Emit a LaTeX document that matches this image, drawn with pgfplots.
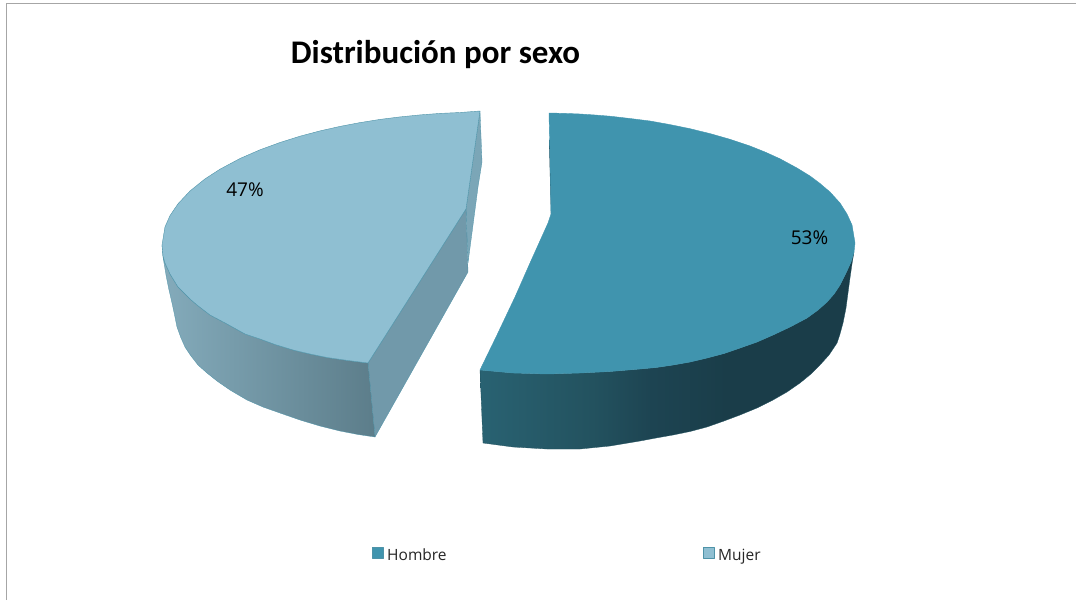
\documentclass[border=0pt]{standalone}
\usepackage{fontspec}
\usepackage{pgfplots}
\pgfplotsset{compat=1.18}
\setmainfont{Open Sans}
\newfontfamily\titlefont{Carlito}
\definecolor{hTop}{HTML}{4094AE}
\definecolor{mTop}{HTML}{8FBFD2}
\definecolor{edge}{HTML}{4E93A8}
\definecolor{mFace}{HTML}{7199AA}
\definecolor{mFaceB}{HTML}{7BA6B7}
\definecolor{frameC}{HTML}{A6A6A6}
\definecolor{HS1}{HTML}{296272}
\definecolor{HS2}{HTML}{23525F}
\definecolor{HS3}{HTML}{1D4452}
\definecolor{HS4}{HTML}{1A3D49}
\definecolor{MS1}{HTML}{84ABBB}
\definecolor{MS2}{HTML}{5C7D8A}
\pgfdeclarehorizontalshading{hSide}{100bp}{color(0bp)=(HS1); color(25bp)=(HS1); color(40bp)=(HS2); color(48bp)=(HS3); color(58bp)=(HS4); color(100bp)=(HS4)}
\pgfdeclarehorizontalshading{mSide}{100bp}{color(0bp)=(MS1); color(25bp)=(MS1); color(75bp)=(MS2); color(100bp)=(MS2)}
\begin{document}
\begin{tikzpicture}
\begin{axis}[
  scale only axis, width=1076pt, height=600pt,
  xmin=0, xmax=1076, ymin=0, ymax=600, y dir=reverse,
  axis line style={draw=none}, xtick=\empty, ytick=\empty,
  clip=true, every axis plot/.append style={mark=none, line join=round}]
% frame
\addplot[frameC, line width=1pt] coordinates {(6,600) (6,3) (1076,3)};
% Hombre side
\addplot[shading=hSide, draw=HS2, line width=0.3pt] coordinates {
 (480,370) (513,373) (547,374) (580,373) (610,371.5) (640,369) (656,367.5) (673,365) (690,362) (707,358)
 (724,353.5) (740,348) (757,342) (773,335) (790,327) (807,318) (818,310) (827,302) (834,294) (840,285)
 (846,273) (851,262) (854,252)
 (852,264) (850,278) (848,293) (846,308) (843,323) (840,334) (837,343) (829,355) (820,365) (811,374)
 (800,383) (787,392) (773,400) (757,408) (740,415) (724,421) (707,427) (690,431.5) (673,435) (656,438)
 (640,441) (610,446) (580,449) (547,449) (513,447) (483,443)} -- cycle;
% Hombre dark sliver at the cut
\addplot[fill=HS4, draw=none] coordinates {(549,140) (551,214) (553,214) (552,140)} -- cycle;
% Hombre top
\addplot[fill=hTop, draw=hTop, line width=0.4pt] coordinates {
 (549,113) (565,113.4) (580,114) (595,115) (610,116.2) (630,118.5) (650,121) (670,124.6) (690,128.7)
 (710,133.6) (730,139.3) (750,146) (765,152) (780,158.8) (797,168) (810,176) (820,183.5) (830,192)
 (840,203) (847,214) (852,225) (855,243) (854,252) (851,262) (846,273) (840,285) (834,294) (827,302)
 (818,310) (807,318) (790,327) (773,335) (757,342) (740,348) (724,353.5) (707,358) (690,362) (673,365)
 (656,367.5) (640,369) (610,371.5) (580,373) (547,374) (513,373) (480,370)
 (497,335) (515,297) (530,263) (548,223) (551,214) (550,160)} -- cycle;
% Mujer back sliver
\addplot[fill=mFaceB, draw=edge, line width=0.3pt] coordinates {
 (480,111) (482,162) (478,187) (468,263) (466,209)} -- cycle;
% Mujer flat face
\addplot[fill=mFace, draw=edge, line width=0.3pt] coordinates {
 (368,363) (466,209) (468,272) (375,437)} -- cycle;
% Mujer round side
\addplot[shading=mSide, draw=edge, line width=0.3pt] coordinates {
 (162,245) (163,256) (165,263) (170,274) (178,287) (190,299) (197,305) (210,315) (227,324) (245,334)
 (260,339) (275,344.5) (293,350) (310,354) (327,357.5) (348,360.5) (368,363)
 (375,437) (358,434.5) (340,431) (320,426) (300,420) (280,413) (263,407) (247,400) (230,390) (217,381)
 (207,373) (198,365) (191,356) (185,347) (181,338) (177,327) (175,317) (172,303) (169,290) (166,275) (163,257)} -- cycle;
% Mujer top
\addplot[fill=mTop, draw=edge, line width=0.4pt] coordinates {
 (480,111) (460,112.5) (440,113.4) (420,114.9) (400,116.9) (380,119.4) (360,122.6) (340,126.4) (320,130.9)
 (300,136.2) (280,142.5) (260,149.8) (240,158.5) (220,169.2) (205,178.9) (190,191) (178,203.8) (170,215.6)
 (165,226.9) (162,245) (163,256) (165,263) (170,274) (178,287) (190,299) (197,305) (210,315) (227,324)
 (245,334) (260,339) (275,344.5) (293,350) (310,354) (327,357.5) (348,360.5) (368,363) (466,209)} -- cycle;
% legend keys
\addplot[fill=hTop, draw=edge, line width=0.6pt] coordinates {(372.5,547.5) (383,547.5) (383,558) (372.5,558)} -- cycle;
\addplot[fill=mTop, draw=edge, line width=0.6pt] coordinates {(703.5,547.5) (714.5,547.5) (714.5,558) (703.5,558)} -- cycle;
% texts
\node[font=\titlefont\bfseries\fontsize{33}{33}\selectfont, text=black, anchor=base, inner sep=0pt] at (axis cs:435.5,63) {Distribución por sexo};
\node[font=\fontsize{19}{19}\selectfont, text=black, anchor=base, inner sep=0pt] at (axis cs:245,196) {47\%};
\node[font=\fontsize{19}{19}\selectfont, text=black, anchor=base, inner sep=0pt] at (axis cs:809.5,244) {53\%};
\node[font=\fontsize{15.5}{15.5}\selectfont, text=black!85, anchor=base west, inner sep=0pt] at (axis cs:387,560) {Hombre};
\node[font=\fontsize{15.5}{15.5}\selectfont, text=black!85, anchor=base west, inner sep=0pt] at (axis cs:718,560) {Mujer};
\end{axis}
\end{tikzpicture}
\end{document}
